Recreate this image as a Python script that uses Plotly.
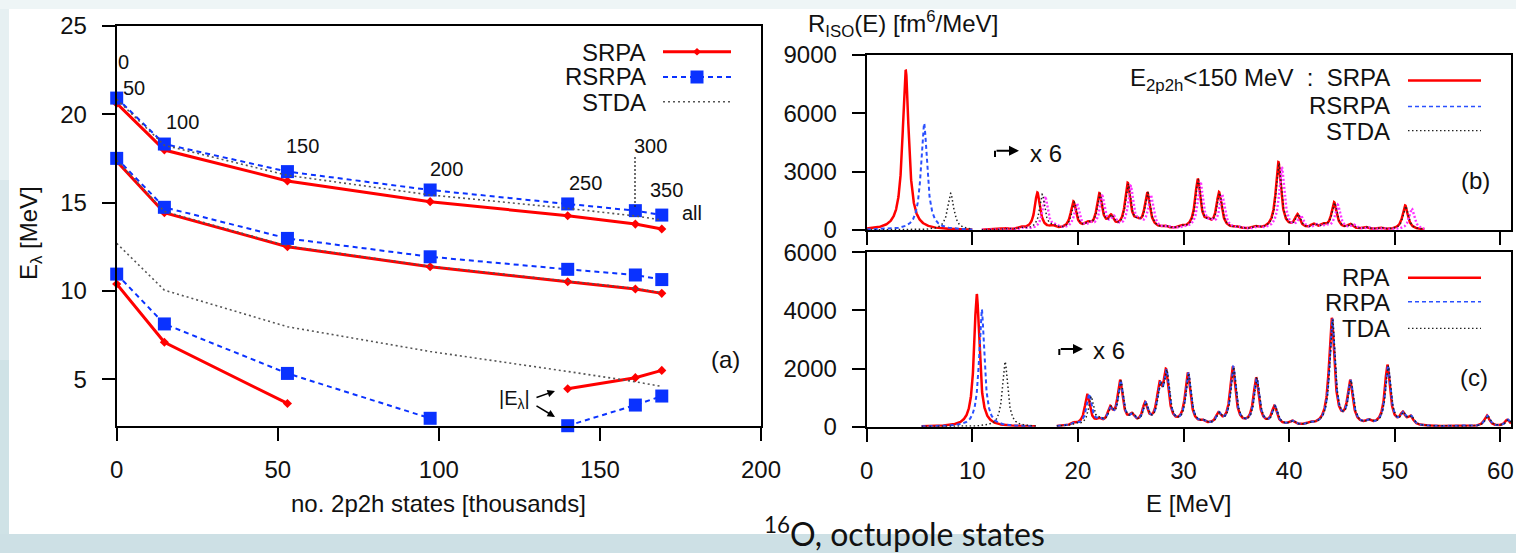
import numpy as np
import plotly.graph_objects as go

W, H = 1516, 553
FONT = "Liberation Sans, Arial, Helvetica, sans-serif"

# ---------------- panel (a): octupole energies vs. number of 2p2h states ----------------
n2p2h = [0, 14.8, 53, 97.3, 140, 161, 169.2]          # thousands
cut_labels = ["0", "50", "100", "150", "200", "250", "300", "350", "all"]

SRPA_1 = [20.62, 17.98, 16.23, 15.06, 14.26, 13.79, 13.51]
SRPA_2 = [17.35, 14.43, 12.51, 11.38, 10.53, 10.12, 9.87]
SRPA_3 = [10.40, 7.10, 3.64]
SRPA_3_abs = [4.47, 5.10, 5.51]
RSRPA_1 = [20.92, 18.32, 16.76, 15.72, 14.93, 14.55, 14.30]
RSRPA_2 = [17.51, 14.74, 12.98, 11.94, 11.23, 10.91, 10.65]
RSRPA_3 = [10.96, 8.14, 5.34, 2.80]
RSRPA_3_abs = [2.38, 3.55, 4.06]
STDA_1 = [20.85, 18.25, 16.55, 15.44, 14.68, 14.25, 14.02]
STDA_2 = [17.40, 14.50, 12.55, 11.40, 10.56, 10.15, 9.90]
STDA_3 = [12.70, 10.05, 7.98, 6.58, 5.45, 4.87, 4.60]

# ---------------- panel (b): strength peaks (E [MeV], height) ----------------
b_SRPA_lo_E, b_SRPA_lo_R = [3.69], [8230]
b_RSRPA_lo_E, b_RSRPA_lo_R = [5.43], [5490]
b_STDA_lo_E, b_STDA_lo_R = [7.95], [1890]

b_SRPA_hi_E = [13.2, 14.6, 16.16, 17.6, 19.57, 20.9, 22.03, 23.13, 24.71, 25.6, 26.57, 28.2, 29.8,
               31.34, 32.3, 33.36, 35.0, 36.8, 38.98, 40.78, 42.3, 43.2, 44.25, 45.77, 47.2, 48.6, 50.98]
b_SRPA_hi_R = [60, 90, 1900, 130, 1400, 220, 1780, 560, 2300, 230, 1830, 110, 100,
               2550, 250, 1850, 90, 110, 3450, 700, 220, 180, 1380, 240, 120, 90, 1250]
b_STDA_hi_E = [13.3, 14.7, 16.62, 17.7, 19.65, 21.0, 22.08, 23.2, 24.76, 25.7, 26.62, 28.3, 29.9,
               31.39, 32.4, 33.41, 35.1, 36.9, 39.03, 40.85, 42.4, 43.3, 44.3, 45.85, 47.3, 48.7, 51.03]
b_STDA_hi_R = [60, 90, 1800, 130, 1350, 220, 1750, 560, 2250, 230, 1800, 110, 100,
               2500, 250, 1800, 90, 110, 3400, 700, 220, 180, 1350, 240, 120, 90, 1220]
b_RSRPA_hi_E = [13.5, 14.9, 16.9, 17.9, 19.9, 21.2, 22.3, 23.4, 25.0, 25.9, 26.9, 28.5, 30.1,
                31.6, 32.6, 33.65, 35.3, 37.1, 39.3, 41.1, 42.6, 43.5, 44.6, 46.1, 47.5, 48.9, 51.6]
b_RSRPA_hi_R = [50, 80, 1700, 120, 1300, 200, 1650, 520, 2150, 210, 1700, 100, 90,
                2400, 230, 1750, 80, 100, 3200, 650, 200, 160, 1250, 220, 110, 80, 1100]

# ---------------- panel (c): strength peaks ----------------
c_RPA_lo_E, c_RPA_lo_R = [10.42], [4565]
c_RRPA_lo_E, c_RRPA_lo_R = [10.89], [4040]
c_TDA_lo_E, c_TDA_lo_R = [13.10], [2236]

c_RPA_hi_E = [19.6, 20.89, 22.0, 23.04, 23.99, 25.09, 26.35, 27.71, 28.34, 30.40, 31.8, 33.30, 34.66,
              36.87, 38.6, 40.25, 42.0, 44.03, 45.77, 47.5, 49.3, 50.75, 51.5, 55.0, 58.71, 60.66]
c_RPA_hi_R = [80, 1050, 150, 520, 1500, 280, 700, 1150, 1700, 1780, 100, 360, 2000,
              1620, 640, 140, 60, 3680, 1480, 120, 2080, 380, 280, 20, 380, 230]
c_RRPA_hi_E = [19.7, 21.05, 22.05, 23.09, 24.04, 25.14, 26.4, 27.76, 28.39, 30.45, 31.85, 33.35, 34.71,
               36.92, 38.65, 40.3, 42.05, 44.08, 45.82, 47.55, 49.35, 50.8, 51.55, 55.05, 58.76, 60.71]
c_RRPA_hi_R = [80, 1080, 150, 520, 1480, 280, 690, 1140, 1690, 1770, 100, 360, 1990,
               1610, 640, 140, 60, 3650, 1470, 120, 2060, 380, 280, 20, 370, 230]
c_TDA_hi_E = [19.8, 21.25, 22.1, 23.12, 24.07, 25.17, 26.43, 27.79, 28.42, 30.48, 31.9, 33.38, 34.74,
              36.95, 38.68, 40.33, 42.1, 44.11, 45.85, 47.6, 49.38, 50.83, 51.58, 55.1, 58.8, 60.75]
c_TDA_hi_R = [80, 980, 150, 510, 1460, 280, 680, 1130, 1680, 1760, 100, 350, 1980,
              1600, 630, 140, 60, 3620, 1460, 120, 2050, 370, 280, 20, 370, 230]

GAMMA_LO_B = 0.7   # Lorentzian FWHM used for folding [MeV]
GAMMA_LO_C = 0.6
GAMMA_HI = 0.6


def fold(grid, energies, heights, gamma):
    hw2 = (gamma / 2.0) ** 2
    out = np.zeros_like(grid)
    for e, h in zip(energies, heights):
        out += h * hw2 / ((grid - e) ** 2 + hw2)
    return out


def px(x):
    return x / W


def py(y):
    return 1 - y / H


fig = go.Figure()

RED = "#ff0000"
BLUE = "#0a32ff"
GRAY = "#555555"

# ---- panel (a) traces ----
def line_trace(x, y, color, width, dash, marker=None, msize=0):
    kw = dict(x=x, y=y, mode="lines+markers" if marker else "lines",
              line=dict(color=color, width=width, dash=dash),
              xaxis="x", yaxis="y", showlegend=False, cliponaxis=False, hoverinfo="skip")
    if marker:
        kw["marker"] = dict(symbol=marker, size=msize, color=color, line=dict(width=0))
    return go.Scatter(**kw)

for ys, xs in [(SRPA_1, n2p2h), (SRPA_2, n2p2h), (SRPA_3, n2p2h[:3]), (SRPA_3_abs, n2p2h[4:])]:
    fig.add_trace(line_trace(xs, ys, RED, 3, "solid", "diamond", 7))
for ys, xs in [(RSRPA_1, n2p2h), (RSRPA_2, n2p2h), (RSRPA_3, n2p2h[:4]), (RSRPA_3_abs, n2p2h[4:])]:
    fig.add_trace(line_trace(xs, ys, BLUE, 2, "5px,4px", "square", 13))
for ys in [STDA_1, STDA_2, STDA_3]:
    fig.add_trace(line_trace(n2p2h, ys, GRAY, 1.6, "2px,3px"))

# ---- panels (b), (c) traces ----
Eb_lo = np.linspace(0, 10, 801)
Eb_hi = np.linspace(10.9, 52.8, 2001)
Ec_lo = np.linspace(5.2, 16.0, 801)
Ec_hi = np.linspace(18.0, 61.0, 2001)


def spec(x, y, ax, ay, color, width, dash):
    return go.Scatter(x=x, y=y, mode="lines", line=dict(color=color, width=width, dash=dash),
                      xaxis=ax, yaxis=ay, showlegend=False, hoverinfo="skip")

fig.add_trace(spec(Eb_lo, fold(Eb_lo, b_SRPA_lo_E, b_SRPA_lo_R, GAMMA_LO_B), "x2", "y2", RED, 2.5, "solid"))
fig.add_trace(spec(Eb_hi, fold(Eb_hi, b_SRPA_hi_E, b_SRPA_hi_R, GAMMA_HI), "x2", "y2", RED, 2.5, "solid"))
fig.add_trace(spec(Eb_lo, fold(Eb_lo, b_RSRPA_lo_E, b_RSRPA_lo_R, GAMMA_LO_B), "x2", "y2", "#2a50ff", 2, "4px,3px"))
fig.add_trace(spec(Eb_hi, fold(Eb_hi, b_RSRPA_hi_E, b_RSRPA_hi_R, GAMMA_HI), "x2", "y2", "#ff33ff", 2.4, "2px,2px"))
fig.add_trace(spec(Eb_lo, fold(Eb_lo, b_STDA_lo_E, b_STDA_lo_R, GAMMA_LO_B), "x2", "y2", "#222222", 1.5, "1.5px,2.5px"))
fig.add_trace(spec(Eb_hi, fold(Eb_hi, b_STDA_hi_E, b_STDA_hi_R, GAMMA_HI), "x2", "y2", "#222222", 1.5, "1.5px,2.5px"))

fig.add_trace(spec(Ec_lo, fold(Ec_lo, c_RPA_lo_E, c_RPA_lo_R, GAMMA_LO_C), "x3", "y3", RED, 2.5, "solid"))
fig.add_trace(spec(Ec_hi, fold(Ec_hi, c_RPA_hi_E, c_RPA_hi_R, GAMMA_HI), "x3", "y3", RED, 2.5, "solid"))
fig.add_trace(spec(Ec_lo, fold(Ec_lo, c_RRPA_lo_E, c_RRPA_lo_R, GAMMA_LO_C), "x3", "y3", "#2a50ff", 2, "4px,3px"))
fig.add_trace(spec(Ec_hi, fold(Ec_hi, c_RRPA_hi_E, c_RRPA_hi_R, GAMMA_HI), "x3", "y3", "#2a50ff", 2, "4px,3px"))
fig.add_trace(spec(Ec_lo, fold(Ec_lo, c_TDA_lo_E, c_TDA_lo_R, GAMMA_LO_C), "x3", "y3", "#222222", 1.5, "1.5px,2.5px"))
fig.add_trace(spec(Ec_hi, fold(Ec_hi, c_TDA_hi_E, c_TDA_hi_R, GAMMA_HI), "x3", "y3", "#222222", 1.5, "1.5px,2.5px"))

# ---- axes ----
tickfont = dict(family=FONT, size=24, color="#111111")
common = dict(showline=True, linecolor="black", linewidth=2, mirror=True, ticks="outside",
              ticklen=13, tickwidth=2, tickcolor="black", showgrid=False, zeroline=False,
              tickfont=tickfont, automargin=False)

fig.update_layout(
    xaxis=dict(domain=[px(116.7), px(761)], range=[0, 200], dtick=50, tick0=0,
               anchor="y", ticklabelstandoff=8, **common),
    yaxis=dict(domain=[py(425.9), py(26)], range=[2.37, 25], dtick=5, tick0=0,
               anchor="x", ticklabelstandoff=10, **common),
    xaxis2=dict(domain=[px(866.7), px(1511)], range=[0, 61], dtick=10, tick0=0,
                anchor="y2", showticklabels=False, **common),
    yaxis2=dict(domain=[py(230), py(55)], range=[0, 9000], dtick=3000, tick0=0,
                anchor="x2", ticklabelstandoff=10, **common),
    xaxis3=dict(domain=[px(866.7), px(1511)], range=[0, 61], dtick=10, tick0=0,
                anchor="y3", ticklabelstandoff=8, **common),
    yaxis3=dict(domain=[py(426.7), py(252.3)], range=[0, 6000], dtick=2000, tick0=0,
                anchor="x3", ticklabelstandoff=10, **common),
)

# ---- background (slide) ----
shapes = []
def rect(x0, y0, x1, y1, color, layer="below"):
    shapes.append(dict(type="rect", xref="paper", yref="paper", x0=px(x0), x1=px(x1),
                       y0=py(y1), y1=py(y0), fillcolor=color, line=dict(width=0), layer=layer))

rect(0, 0, W, 9, "#eef5f6")
rect(0, 9, 9, 180, "#e6f0f2")
rect(0, 180, 9, 360, "#dae8ec")
rect(0, 360, 9, 534, "#cfe2e6")
rect(9, 9, W, 534, "#ffffff")
rect(0, 534, W, H, "#cde0e5")


def seg(x0, y0, x1, y1, color="black", width=1.5, dash="solid"):
    shapes.append(dict(type="line", xref="paper", yref="paper", x0=px(x0), y0=py(y0),
                       x1=px(x1), y1=py(y1), line=dict(color=color, width=width, dash=dash)))

# legend samples (a)
seg(663, 51.7, 731, 51.7, RED, 3)
seg(663, 77, 731, 77, BLUE, 2, "5px,4px")
seg(663, 101.7, 731, 101.7, GRAY, 1.6, "2px,3px")
shapes.append(dict(type="rect", xref="paper", yref="paper", x0=px(690.5), x1=px(703.5),
                   y0=py(83.5), y1=py(70.5), fillcolor=BLUE, line=dict(width=0)))
shapes.append(dict(type="path", xref="paper", yref="paper",
                   path=f"M {px(693)} {py(51.7)} L {px(697)} {py(48)} L {px(701)} {py(51.7)} L {px(697)} {py(55.4)} Z",
                   fillcolor=RED, line=dict(width=0)))
# legend samples (b)
seg(1408, 80.5, 1481, 80.5, RED, 2.5)
seg(1408, 106.5, 1481, 106.5, "#2a50ff", 1.5, "4px,3px")
seg(1408, 130.7, 1481, 130.7, "#222222", 1.3, "1.5px,2.5px")
# legend samples (c)
seg(1408, 277.7, 1481, 277.7, RED, 2.5)
seg(1408, 301.7, 1481, 301.7, "#2a50ff", 1.5, "4px,3px")
seg(1408, 328.3, 1481, 328.3, "#222222", 1.3, "1.5px,2.5px")
# dotted pointer from "300" label
seg(635, 157, 635, 208, "#222222", 1.3, "2px,2px")
# bent "x 6" arrows (stubs)
seg(995, 150.7, 995, 157, "black", 2)
seg(1059.3, 349, 1059.3, 355, "black", 2)

fig.update_layout(shapes=shapes)

# ---- annotations ----
ann = []
def text(x, y, s, size=24, xanchor="center", yanchor="middle", textangle=0, family=FONT, color="#111111"):
    ann.append(dict(x=px(x), y=py(y), xref="paper", yref="paper", text=s, showarrow=False,
                    xanchor=xanchor, yanchor=yanchor, textangle=textangle,
                    font=dict(family=family, size=size, color=color)))

def arrow(xh, yh, xt, yt, width=1.5):
    ann.append(dict(x=px(xh), y=py(yh), xref="paper", yref="paper", ax=xt - xh, ay=yt - yh,
                    axref="pixel", ayref="pixel", text="", showarrow=True, arrowhead=2,
                    arrowsize=1, arrowwidth=width, arrowcolor="black"))

# cut-off labels in (a)
label_pos = [(123, 62), (134, 88), (182, 122), (302, 146), (446, 169), (585, 183),
             (650, 146), (666, 190), (692, 213)]
for lab, (x, y) in zip(cut_labels, label_pos):
    text(x, y, lab, size=20)

text(648, 52, "SRPA", xanchor="right")
text(648, 77, "RSRPA", xanchor="right")
text(648, 102, "STDA", xanchor="right")
text(725, 359, "(a)")
text(514, 399, "|E<sub>λ</sub>|", size=20)
arrow(555, 391, 535, 398)
arrow(555, 417, 535, 405)
text(438.5, 503, "no. 2p2h states [thousands]")
text(30, 233, "E<sub>λ</sub> [MeV]", textangle=-90)

text(1392, 80, "E<sub>2p2h</sub><150 MeV \u00a0:\u00a0 SRPA", xanchor="right")
text(1392, 106, "RSRPA", xanchor="right")
text(1392, 131, "STDA", xanchor="right")
text(1475, 180, "(b)")
arrow(1019, 150.7, 995, 150.7, 2)
text(1028, 153, "x 6", xanchor="left")

text(1392, 277.7, "RPA", xanchor="right")
text(1392, 302.7, "RRPA", xanchor="right")
text(1392, 328, "TDA", xanchor="right")
text(1474, 377, "(c)")
arrow(1083, 349, 1059.3, 349, 2)
text(1091, 350.7, "x 6", xanchor="left")

text(903, 24, "R<sub>ISO</sub>(E) [fm<sup>6</sup>/MeV]")
text(1188, 503, "E [MeV]")

text(905, 532, "<sup>16</sup>O, octupole states", size=32, family="Lato, Open Sans, sans-serif",
     color="#111111")

fig.update_layout(annotations=ann, width=W, height=H, margin=dict(l=0, r=0, t=0, b=0, pad=0),
                  autosize=False,
                  paper_bgcolor="#cde0e5", plot_bgcolor="rgba(0,0,0,0)",
                  font=dict(family=FONT, color="#111111"), showlegend=False)

fig.write_html("out.html")
